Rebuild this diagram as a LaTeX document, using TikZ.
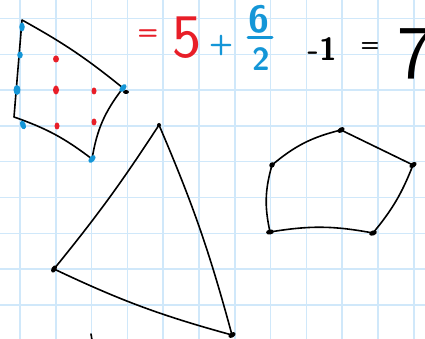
\documentclass[tikz,border=0pt]{standalone}
\usetikzlibrary{shapes.geometric}
\definecolor{pickred}{RGB}{232,30,40}
\definecolor{pickblue}{RGB}{20,150,215}
\definecolor{paperline}{RGB}{208,232,250}
\tikzset{
  gridln/.style={draw=paperline, line width=1.5pt},
  pen/.style={draw=black, line width=1.6pt, line cap=round, line join=round},
  vtx/.style={ellipse, fill=black, inner sep=0pt, minimum width=8pt, minimum height=5pt},
  bnd/.style={ellipse, fill=pickblue, inner sep=0pt, minimum width=5.5pt, minimum height=9pt},
  inr/.style={ellipse, fill=pickred, inner sep=0pt, minimum width=5pt, minimum height=7pt},
  hand/.style={inner sep=0pt}
}
\newcommand{\ink}[1]{\sffamily\bfseries\fontsize{#1}{#1}\selectfont}
\newcommand{\thinink}[1]{\sffamily\fontsize{#1}{#1}\selectfont}

\begin{document}
\begin{tikzpicture}[x=1pt, y=1pt]
\useasboundingbox (0,0) rectangle (425,-339);
\clip (0,0) rectangle (425,-339);
\fill[white] (0,0) rectangle (425,-339);
\foreach \i in {0,...,11}
  \draw[gridln] ({20+35.8*\i},0) -- ({20+35.8*\i},-339);
\foreach \j in {0,...,8}
  \draw[gridln] (0,{-18.5-35.8*\j}) -- (425,{-18.5-35.8*\j});

% lattice polygon
\coordinate (q1) at (22,-20);
\coordinate (q2) at (14,-117);
\coordinate (q3) at (92,-159);
\coordinate (q4) at (123,-88);
\draw[pen] (q1) -- (q2) to[bend left=9] (q3) to[bend left=14] (q4) to[bend right=5] (q1);
\node[vtx, minimum width=6pt, minimum height=4pt] (q4b) at (126,-92) {};
\node[bnd] (b1) at (22,-27) {};
\node[bnd, minimum height=7pt] (b2) at (20,-55) {};
\node[bnd, minimum width=7pt, minimum height=10pt] (b3) at (17,-90) {};
\node[bnd, rotate=20] (b4) at (23,-125) {};
\node[bnd, rotate=-40] (b5) at (92,-159) {};
\node[bnd, rotate=-40] (b6) at (123,-88) {};
\node[inr, minimum width=6pt] (i1) at (56,-59) {};
\node[inr, minimum width=6pt, minimum height=9pt] (i2) at (56,-90) {};
\node[inr] (i3) at (94,-91) {};
\node[inr] (i4) at (57,-126) {};
\node[inr] (i5) at (94,-122) {};

% formula
\node[hand, text=pickred, font=\ink{24}] (eqa) at (148,-35) {=};
\node[hand, text=pickred, font=\thinink{62}] (five) at (187,-38) {5};
\node[hand, text=pickblue, font=\ink{28}] (plus) at (221,-46) {+};
\node[hand, text=pickblue, font=\ink{38}] (six) at (259,-19) {6};
\node[hand, text=pickblue, font=\ink{32}] (two) at (261,-59) {2};
\draw[pickblue, line width=3pt, line cap=round] (248,-38) -- (272,-38);
\node[hand, font=\ink{32}] (one) at (322,-49) {-1};
\node[hand, font=\ink{22}] (eqb) at (370,-47) {=};
\node[hand, font=\thinink{76}, anchor=base west] (seven) at (397,-79) {7};

% triangle
\coordinate (t1) at (159,-125);
\coordinate (t2) at (54,-269);
\coordinate (t3) at (232,-335);
\draw[pen] (t1) to[bend left=3] (t2) to[bend right=5] (t3) to[bend right=4] (t1);
\node[vtx, minimum width=4pt, minimum height=4pt] (t1d) at (t1) {};
\node[vtx, rotate=60] (t2d) at (t2) {};
\node[vtx, rotate=30] (t3d) at (t3) {};
\draw[pen] (91,-334) -- (92,-340);

% pentagon
\coordinate (p1) at (341,-130);
\coordinate (p2) at (413,-165);
\coordinate (p3) at (373,-233);
\coordinate (p4) at (270,-232);
\coordinate (p5) at (272,-165);
\draw[pen] (p5) to[bend left=13] (p1) -- (p2) to[bend left=9] (p3) to[bend right=10] (p4) to[bend left=14] (p5);
\node[vtx, rotate=30] (p1d) at (p1) {};
\node[vtx, rotate=35] (p2d) at (p2) {};
\node[vtx, rotate=20] (p3d) at (p3) {};
\node[vtx, rotate=10] (p4d) at (p4) {};
\node[vtx, rotate=45, minimum width=6pt] (p5d) at (p5) {};
\end{tikzpicture}
\end{document}
